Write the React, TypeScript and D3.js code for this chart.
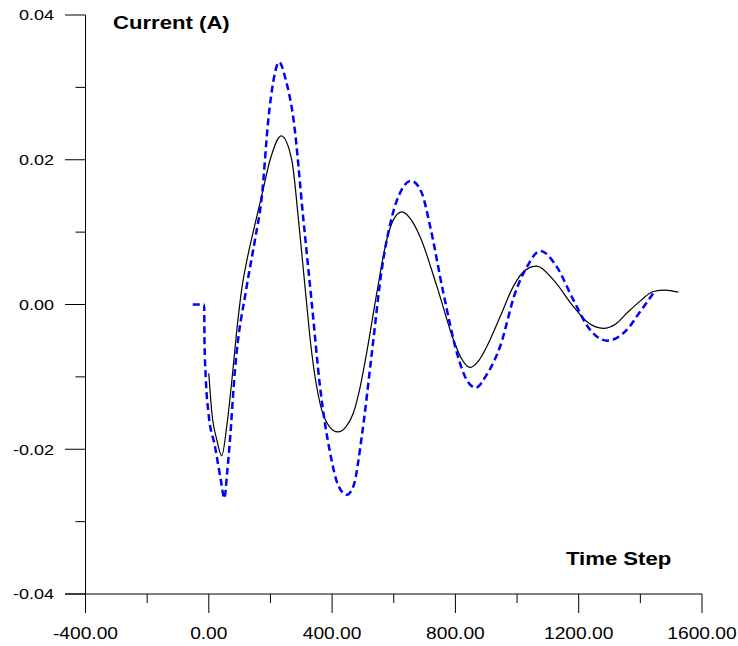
import React from "react";
import * as d3 from "d3";

const blackX = [0, 10, 26, 42, 58, 75, 91, 107, 124, 140, 156, 172, 199, 235, 269, 291, 312, 334, 361, 390, 418, 445, 469, 492, 512, 545, 577, 600, 626, 655, 685, 740, 794, 820, 848, 875, 902, 945, 988, 1025, 1064, 1118, 1183, 1230, 1280, 1320, 1356, 1400, 1442, 1480, 1523];
const blackY = [-0.0095, -0.015, -0.0187, -0.0209, -0.0169, -0.0104, -0.0035, 0.0022, 0.0062, 0.0093, 0.0122, 0.0151, 0.02, 0.0233, 0.02, 0.0117, 0.0025, -0.0067, -0.0137, -0.0168, -0.0176, -0.0169, -0.015, -0.0112, -0.0067, 0.0016, 0.0089, 0.0118, 0.0128, 0.0118, 0.0094, 0.0025, -0.0049, -0.0075, -0.0087, -0.0078, -0.0058, -0.0017, 0.0025, 0.0047, 0.0053, 0.0034, -0.0003, -0.0025, -0.0033, -0.0027, -0.0012, 0.0005, 0.0018, 0.002, 0.0017];

const blueX = [-52, -15, -14, -10, -1, 20, 40, 50, 60, 67, 85, 123, 150, 172, 193, 210, 228, 250, 275, 307, 334, 361, 394, 420, 448, 470, 496, 529, 561, 594, 625, 656, 690, 718, 761, 805, 835, 866, 900, 945, 994, 1032, 1075, 1129, 1183, 1237, 1293, 1356, 1399, 1448];
const blueY = [0, 0, -0.005, -0.01, -0.015, -0.0196, -0.0245, -0.0268, -0.023, -0.0196, -0.009, 0.0025, 0.009, 0.0149, 0.0255, 0.031, 0.0335, 0.031, 0.0255, 0.0117, 0.0002, -0.0114, -0.0206, -0.025, -0.0263, -0.025, -0.0183, -0.0067, 0.0048, 0.0121, 0.0158, 0.0171, 0.0155, 0.0108, 0.0016, -0.0067, -0.0103, -0.0115, -0.0098, -0.0058, 0.0016, 0.0052, 0.0074, 0.0052, 0.0006, -0.0035, -0.005, -0.0035, -0.001, 0.0019];

const xMajor = [-400, 0, 400, 800, 1200, 1600];
const xMinor = [-200, 200, 600, 1000, 1400];
const yMajor = [-0.04, -0.02, 0, 0.02, 0.04];
const yMinor = [-0.03, -0.01, 0.01, 0.03];
const xLabels = ["-400.00", "0.00", "400.00", "800.00", "1200.00", "1600.00"];
const yLabels = ["-0.04", "-0.02", "0.00", "0.02", "0.04"];

export default function App() {
  const W = 738, H = 646;
  const x = d3.scaleLinear().domain([-400, 1600]).range([85.5, 702]);
  const y = d3.scaleLinear().domain([-0.04, 0.04]).range([594, 15]);
  const line = d3
    .line<[number, number]>()
    .x((d) => x(d[0]))
    .y((d) => y(d[1]))
    .curve(d3.curveMonotoneX);
  const black = blackX.map((v, i) => [v, blackY[i]] as [number, number]);
  const blue = blueX.map((v, i) => [v, blueY[i]] as [number, number]);
  const font = "Arial, 'Liberation Sans', sans-serif";
  const sx = 1.2;
  return (
    <svg width={W} height={H} style={{ position: "absolute", left: 0, top: 0, background: "#fff" }}>
      <rect x={0} y={0} width={W} height={H} fill="#fff" />
      <line x1={x(-400)} x2={x(-400)} y1={y(0.04)} y2={y(-0.04) + 19} stroke="#000" strokeWidth={1} />
      <line x1={x(-400) - 20.5} x2={x(1600)} y1={y(-0.04)} y2={y(-0.04)} stroke="#000" strokeWidth={1} />
      {yMajor.map((v) => (
        <line key={"ym" + v} x1={x(-400) - 20.5} x2={x(-400)} y1={y(v)} y2={y(v)} stroke="#000" strokeWidth={1} />
      ))}
      {yMinor.map((v) => (
        <line key={"yn" + v} x1={x(-400) - 10} x2={x(-400)} y1={y(v)} y2={y(v)} stroke="#000" strokeWidth={1} />
      ))}
      {xMajor.map((v) => (
        <line key={"xm" + v} x1={x(v)} x2={x(v)} y1={y(-0.04)} y2={y(-0.04) + 19} stroke="#000" strokeWidth={1} />
      ))}
      {xMinor.map((v) => (
        <line key={"xn" + v} x1={x(v)} x2={x(v)} y1={y(-0.04)} y2={y(-0.04) + 9} stroke="#000" strokeWidth={1} />
      ))}
      {yMajor.map((v, i) => (
        <text key={"yl" + v} transform={`translate(54,${y(v)}) scale(${sx},1)`} dy="0.36em" textAnchor="end" fontFamily={font} fontSize={15} fill="#000">
          {yLabels[i]}
        </text>
      ))}
      {xMajor.map((v, i) => (
        <text key={"xl" + v} transform={`translate(${x(v)},639) scale(${sx},1)`} textAnchor="middle" fontFamily={font} fontSize={16} fill="#000">
          {xLabels[i]}
        </text>
      ))}
      <text transform={`translate(113,29) scale(1.23,1)`} fontFamily={font} fontSize={18} fontWeight="bold" fill="#000">
        Current (A)
      </text>
      <text transform={`translate(566,565) scale(1.23,1)`} fontFamily={font} fontSize={18} fontWeight="bold" fill="#000">
        Time Step
      </text>
      <path d={line(black) || ""} fill="none" stroke="#000" strokeWidth={1.2} />
      <path d={line(blue) || ""} fill="none" stroke="#0000ff" strokeWidth={2.5} strokeDasharray="7,4" />
    </svg>
  );
}
